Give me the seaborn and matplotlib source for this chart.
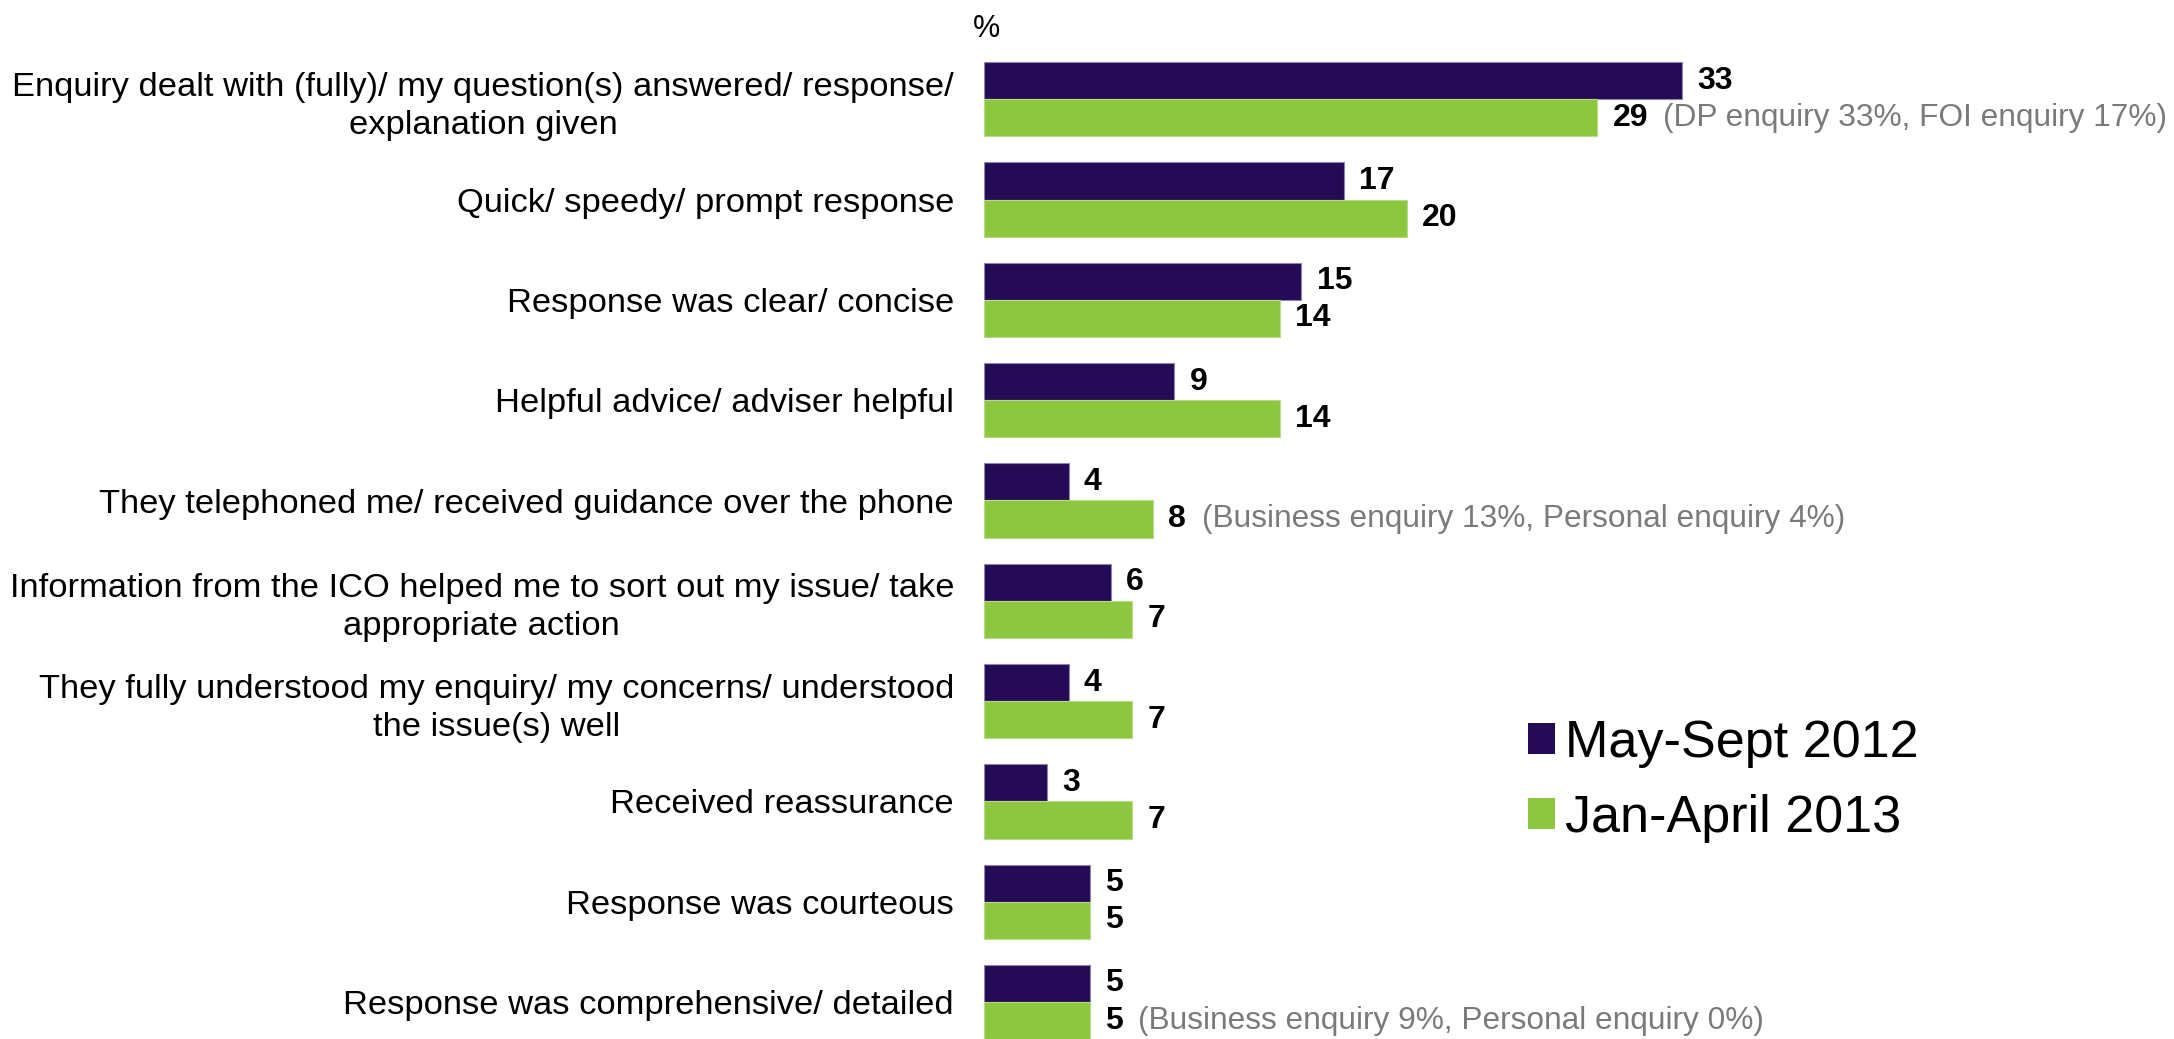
import matplotlib
matplotlib.use("Agg")
import matplotlib.pyplot as plt
import seaborn as sns
import pandas as pd
from matplotlib.patches import Patch

# Reasons given for satisfaction with the ICO's handling of an enquiry (%)
categories = [
    "Enquiry dealt with (fully)/ my question(s) answered/ response/\nexplanation given",
    "Quick/ speedy/ prompt response",
    "Response was clear/ concise",
    "Helpful advice/ adviser helpful",
    "They telephoned me/ received guidance over the phone",
    "Information from the ICO helped me to sort out my issue/ take\nappropriate action",
    "They fully understood my enquiry/ my concerns/ understood\nthe issue(s) well",
    "Received reassurance",
    "Response was courteous",
    "Response was comprehensive/ detailed",
]
series_names = ["May-Sept 2012", "Jan-April 2013"]
may_sept_2012 = [33, 17, 15, 9, 4, 6, 4, 3, 5, 5]
jan_april_2013 = [29, 20, 14, 14, 8, 7, 7, 7, 5, 5]

# Sub-group breakdowns shown beside the Jan-April 2013 bars
notes_2013 = {
    0: "(DP enquiry 33%, FOI enquiry 17%)",
    4: "(Business enquiry 13%, Personal enquiry 4%)",
    9: "(Business enquiry 9%, Personal enquiry 0%)",
}

colors = {"May-Sept 2012": "#250a55", "Jan-April 2013": "#8dc63f"}

df = pd.DataFrame({
    "reason": categories * 2,
    "period": [series_names[0]] * len(categories) + [series_names[1]] * len(categories),
    "pct": may_sept_2012 + jan_april_2013,
})

sns.set_style("white")
plt.rcParams["font.family"] = ["Liberation Sans", "DejaVu Sans"]
plt.rcParams["text.color"] = "black"
plt.rcParams["ytick.color"] = "black"
plt.rcParams["ytick.labelcolor"] = "black"

W, H = 2174, 1039
fig = plt.figure(figsize=(W / 100, H / 100), dpi=100)
ax = fig.add_axes([0, 0, 1, 1])

sns.barplot(data=df, y="reason", x="pct", hue="period", order=categories,
            hue_order=series_names, palette=colors, orient="h",
            width=0.74, errorbar=None, saturation=1, ax=ax, legend=False)

# Placement of the plotting area on the canvas
x0_px, px_per_unit = 984, 21.15
x_max = 56
top_center, spacing = 99.3, 100.3
ax.set_xlim(0, x_max)
ax.set_ylim(len(categories) - 0.5, -0.5)
y_top_px = top_center - spacing / 2
y_bot_px = y_top_px + spacing * len(categories)
ax.set_position([x0_px / W, 1 - y_bot_px / H,
                 x_max * px_per_unit / W, (y_bot_px - y_top_px) / H])

# Thin lighter outlines around bars
edge = {0: "#8f84b0", 1: "#b5dc84"}
for i, cont in enumerate(ax.containers):
    for bar in cont:
        bar.set_edgecolor(edge[i])
        bar.set_linewidth(0.8)

# Value labels and notes
for i, cont in enumerate(ax.containers):
    labels = ax.bar_label(cont, fmt="%d", padding=11, fontsize=23,
                          fontweight="bold", color="black")
    if i == 1:
        for idx, note in notes_2013.items():
            ax.annotate(note, xy=(1, 0.5), xycoords=labels[idx],
                        xytext=(11, 0), textcoords="offset points",
                        va="center", ha="left", fontsize=22.8, color="#7a7a7a")

ax.set_xlabel("")
ax.set_ylabel("")
ax.set_xticks([])
ax.tick_params(axis="y", length=0, pad=21.6, labelsize=24.8, labelcolor="black")
for lab in ax.get_yticklabels():
    lab.set_multialignment("center")
    lab.set_linespacing(1.3)
for s in ax.spines.values():
    s.set_visible(False)

fig.text(987 / W, 1 - 29 / H, "%", ha="center", va="center", fontsize=22,
         color="black")

handles = [Patch(facecolor=colors[n], edgecolor="none") for n in series_names]
leg = fig.legend(handles, series_names, loc="center left",
                 bbox_to_anchor=(1528 / W, 1 - 781 / H), frameon=False,
                 fontsize=37.5, handlelength=0.515, handleheight=0.515,
                 handletextpad=0.2, labelspacing=0.5, borderpad=0, borderaxespad=0)
for t in leg.get_texts():
    t.set_color("black")

fig.savefig("out.png", dpi=100)
